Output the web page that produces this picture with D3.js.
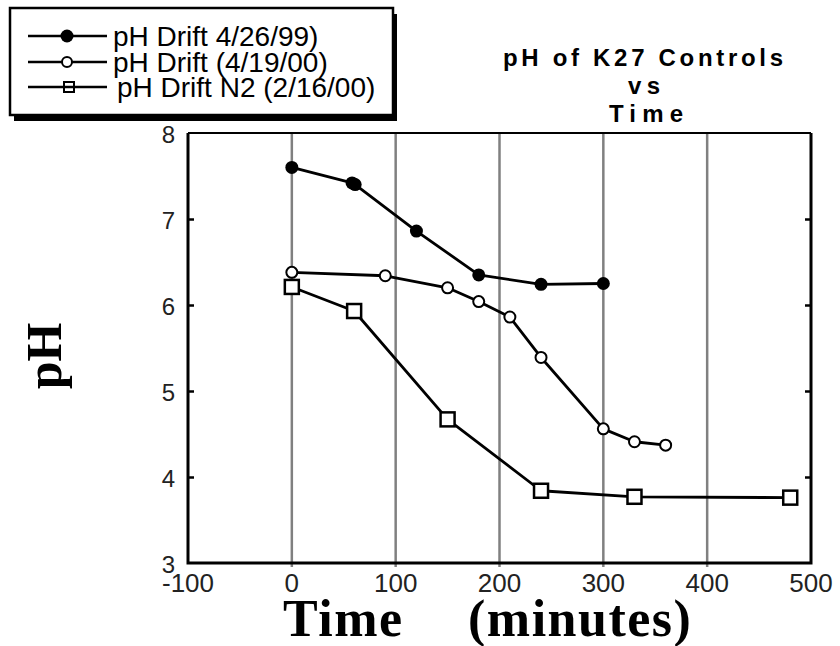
<!DOCTYPE html>
<html>
	<head>
		<meta charset="utf-8">
		<style>
			body { margin: 0; background: #fff; }
			svg { display: block; }
		</style>
	</head>
	<body>
		<script src="https://cdn.jsdelivr.net/npm/d3@7/dist/d3.min.js"></script>
		<script>
			// data
			var seriesNames = ["pH Drift 4/26/99)", "pH Drift (4/19/00)", "pH Drift N2 (2/16/00)"];
			var time1 = [0, 58, 61, 120, 180, 240, 300];
			var ph1 = [7.60, 7.42, 7.40, 6.86, 6.35, 6.24, 6.25];
			var time2 = [0, 90, 150, 180, 210, 240, 300, 330, 360];
			var ph2 = [6.38, 6.34, 6.20, 6.04, 5.86, 5.39, 4.56, 4.41, 4.37];
			var time3 = [0, 60, 150, 240, 330, 480];
			var ph3 = [6.21, 5.93, 4.67, 3.84, 3.77, 3.76];
			var xTicks = [-100, 0, 100, 200, 300, 400, 500];
			var yTicks = [3, 4, 5, 6, 7, 8];
			var gridTicks = [0, 100, 200, 300, 400];
			var titleLines = ["pH of K27 Controls", "vs", "Time"];

			var width = 840;
			var height = 646;
			var svg = d3.select("body")
						.append("svg")
						.attr("width", width)
						.attr("height", height);

			var x = d3.scaleLinear().domain([-100, 500]).range([188, 811]);
			var y = d3.scaleLinear().domain([3, 8]).range([563, 133]);
			var sans = "'Liberation Sans', Arial, sans-serif";
			var serif = "'Liberation Serif', 'Times New Roman', serif";

			// grid lines
			svg.selectAll("line.grid")
				.data(gridTicks)
				.enter()
				.append("line")
				.attr("class", "grid")
				.attr("x1", function(d) {return x(d);})
				.attr("x2", function(d) {return x(d);})
				.attr("y1", y(8))
				.attr("y2", y(3) + 4)
				.attr("stroke", "#808080")
				.attr("stroke-width", 2.5);

			// y axis (ticks inside) left and right
			var yAxisL = d3.axisRight(y).tickValues(yTicks.slice(1, -1)).tickSize(6).tickFormat("");
			var yAxisR = d3.axisLeft(y).tickValues(yTicks.slice(1, -1)).tickSize(6).tickFormat("");
			svg.append("g").attr("transform", "translate(" + x(-100) + ",0)").call(yAxisL);
			svg.append("g").attr("transform", "translate(" + x(500) + ",0)").call(yAxisR);
			svg.selectAll(".domain").remove();
			svg.selectAll(".tick line").attr("stroke", "#000").attr("stroke-width", 2.5);

			// frame
			svg.append("line")
				.attr("x1", x(-100)).attr("x2", x(500))
				.attr("y1", y(8)).attr("y2", y(8))
				.attr("stroke", "#000").attr("stroke-width", 2);
			svg.append("path")
				.attr("d", "M" + x(-100) + "," + y(8) + "V" + y(3) + "H" + x(500) + "V" + y(8))
				.attr("fill", "none")
				.attr("stroke", "#000")
				.attr("stroke-width", 3);

			// tick labels
			svg.selectAll("text.ylab")
				.data(yTicks)
				.enter()
				.append("text")
				.attr("class", "ylab")
				.attr("x", x(-100) - 13)
				.attr("y", function(d) {return y(d) + 10;})
				.attr("text-anchor", "end")
				.attr("font-family", sans)
				.attr("font-size", "24px")
				.attr("fill", "#222")
				.text(function(d) {return d;});
			svg.selectAll("text.xlab")
				.data(xTicks)
				.enter()
				.append("text")
				.attr("class", "xlab")
				.attr("x", function(d) {return x(d);})
				.attr("y", 592)
				.attr("text-anchor", "middle")
				.attr("font-family", sans)
				.attr("font-size", "26px")
				.attr("fill", "#222")
				.text(function(d) {return d;});

			// axis titles
			var xt = svg.append("text")
				.attr("x", 283)
				.attr("y", 636)
				.attr("font-family", serif)
				.attr("font-weight", "bold")
				.attr("font-size", "52px")
				.attr("letter-spacing", "1.5px");
			xt.append("tspan").text("Time");
			xt.append("tspan").attr("x", 468).text("(minutes)");

			svg.append("text")
				.attr("transform", "translate(61,356) rotate(-90)")
				.attr("text-anchor", "middle")
				.attr("font-family", serif)
				.attr("font-weight", "bold")
				.attr("font-size", "50px")
				.text("pH");

			// chart title
			var titleWidths = [280, 32, 74];
			var titleCx = [643, 644, 646];
			svg.selectAll("text.title")
				.data(titleLines)
				.enter()
				.append("text")
				.attr("class", "title")
				.attr("x", function(d, i) {return titleCx[i] - titleWidths[i] / 2;})
				.attr("y", function(d, i) {return 66 + i * 28;})
				.attr("font-family", sans)
				.attr("font-weight", "bold")
				.attr("font-size", "24px")
				.attr("textLength", function(d, i) {return titleWidths[i];})
				.attr("lengthAdjust", "spacing")
				.text(function(d) {return d;});

			// series
			function pts(t, v) {
				return t.map(function(d, i) {return [d, v[i]];});
			}
			var line = d3.line()
						.x(function(d) {return x(d[0]);})
						.y(function(d) {return y(d[1]);});
			var series = [pts(time1, ph1), pts(time2, ph2), pts(time3, ph3)];

			svg.selectAll("path.series")
				.data(series)
				.enter()
				.append("path")
				.attr("class", "series")
				.attr("d", line)
				.attr("fill", "none")
				.attr("stroke", "#000")
				.attr("stroke-width", 2.8)
				.attr("stroke-linejoin", "round");

			svg.selectAll("circle.s1")
				.data(series[0])
				.enter()
				.append("circle")
				.attr("class", "s1")
				.attr("cx", function(d) {return x(d[0]);})
				.attr("cy", function(d) {return y(d[1]);})
				.attr("r", 6.5)
				.attr("fill", "#000");
			svg.selectAll("circle.s2")
				.data(series[1])
				.enter()
				.append("circle")
				.attr("class", "s2")
				.attr("cx", function(d) {return x(d[0]);})
				.attr("cy", function(d) {return y(d[1]);})
				.attr("r", 5.5)
				.attr("fill", "#fff")
				.attr("stroke", "#000")
				.attr("stroke-width", 2);
			svg.selectAll("rect.s3")
				.data(series[2])
				.enter()
				.append("rect")
				.attr("class", "s3")
				.attr("x", function(d) {return x(d[0]) - 7;})
				.attr("y", function(d) {return y(d[1]) - 7;})
				.attr("width", 14)
				.attr("height", 14)
				.attr("fill", "#fff")
				.attr("stroke", "#000")
				.attr("stroke-width", 2.5);

			// legend
			var lg = svg.append("g");
			lg.append("rect")
				.attr("x", 14).attr("y", 14)
				.attr("width", 383).attr("height", 107)
				.attr("fill", "#000");
			lg.append("rect")
				.attr("x", 10).attr("y", 8)
				.attr("width", 383).attr("height", 107)
				.attr("fill", "#fff")
				.attr("stroke", "#000")
				.attr("stroke-width", 2.5);
			var rowY = [36, 62, 87];
			var rowTextX = [113, 113, 117];
			lg.selectAll("line.leg")
				.data(seriesNames)
				.enter()
				.append("line")
				.attr("class", "leg")
				.attr("x1", 28).attr("x2", 107)
				.attr("y1", function(d, i) {return rowY[i];})
				.attr("y2", function(d, i) {return rowY[i];})
				.attr("stroke", "#000")
				.attr("stroke-width", 2.5);
			lg.append("circle").attr("cx", 67).attr("cy", rowY[0]).attr("r", 6.5).attr("fill", "#000");
			lg.append("circle").attr("cx", 67).attr("cy", rowY[1]).attr("r", 5)
				.attr("fill", "#fff").attr("stroke", "#000").attr("stroke-width", 2);
			lg.append("rect").attr("x", 64).attr("y", rowY[2] - 5).attr("width", 10).attr("height", 10)
				.attr("fill", "none").attr("stroke", "#000").attr("stroke-width", 2);
			lg.selectAll("text.leg")
				.data(seriesNames)
				.enter()
				.append("text")
				.attr("class", "leg")
				.attr("x", function(d, i) {return rowTextX[i];})
				.attr("y", function(d, i) {return rowY[i] + 10;})
				.attr("font-family", sans)
				.attr("font-size", "28px")
				.text(function(d) {return d;});
		</script>
</body>
</html>
